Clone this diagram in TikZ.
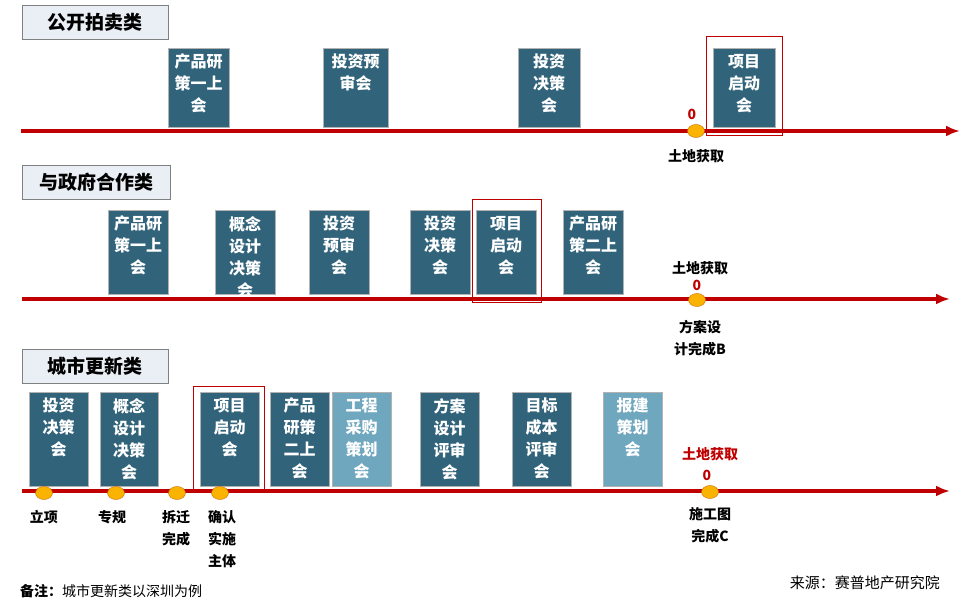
\documentclass[tikz,border=0pt]{standalone}
\usepackage{fontspec}
\setmainfont{Noto Sans CJK SC}
\usetikzlibrary{arrows.meta,shapes.geometric}
\definecolor{boxc}{HTML}{31637A}
\definecolor{boxl}{HTML}{6FA7BF}
\definecolor{redc}{HTML}{C00000}
\definecolor{dotc}{HTML}{F9B300}
\definecolor{titc}{HTML}{E9EFF5}
\tikzset{
  title/.style={draw=gray,fill=titc,line width=0.8pt,anchor=west,font=\fontsize{19}{21}\selectfont\bfseries,inner xsep=6pt,minimum height=34pt},
  btext/.style={text=white,font=\fontsize{16}{22}\selectfont\bfseries,align=center,anchor=north,inner sep=0pt},
  tl/.style={-{Latex[length=14pt,width=11pt]},redc,line width=3.5pt},
  dot/.style={ellipse,draw=orange!80!black,fill=dotc,minimum width=17pt,minimum height=13pt,inner sep=0pt},
  lab/.style={font=\fontsize{14}{22}\selectfont\bfseries,align=center,inner sep=0pt},
  frm/.style={draw=redc,line width=0.8pt}
}
\newcommand{\bx}[6]{%
  \fill[#5,draw=gray!60] (#2,#3) rectangle (#4,#1);
  \node[btext] at ({(#2+#4)/2},{#3+6}) {#6};}
\begin{document}
\begin{tikzpicture}[x=1pt,y=-1pt]
\useasboundingbox[fill=white] (0,0) rectangle (970,609);
% row 1
\node[title,minimum width=146pt] (t1) at (22,22) {公开拍卖类};
\bx{127}{168}{48}{229}{boxc}{产品研\\策一上\\会}
\bx{127}{323}{48}{388}{boxc}{投资预\\审会}
\bx{127}{518}{48}{580}{boxc}{投资\\决策\\会}
\bx{127}{713}{48}{775}{boxc}{项目\\启动\\会}
\draw[frm] (706,36) rectangle (782,135);
\coordinate (a1) at (21,131); \coordinate (b1) at (960,131);
\draw[tl] (a1) -- (b1);
\node[dot] (d1) at (696,131) {};
\node[lab,text=redc] (z1) at (692,114) {0};
\node[lab] (l1) at (696,156) {土地获取};
% row 2
\node[title,minimum width=148pt] (t2) at (22,182) {与政府合作类};
\bx{294}{108}{210}{168}{boxc}{产品研\\策一上\\会}
\bx{294}{215}{210}{275}{boxc}{概念\\设计\\决策\\会}
\bx{294}{309}{210}{369}{boxc}{投资\\预审\\会}
\bx{294}{410}{210}{470}{boxc}{投资\\决策\\会}
\bx{294}{476}{210}{536}{boxc}{项目\\启动\\会}
\bx{294}{563}{210}{623}{boxc}{产品研\\策二上\\会}
\draw[frm] (472,199) rectangle (541,302);
\coordinate (a2) at (22,299); \coordinate (b2) at (950,299);
\draw[tl] (a2) -- (b2);
\node[dot] (d2) at (697,300) {};
\node[lab,text=redc] (z2) at (697,285) {0};
\node[lab] (l2) at (700,268) {土地获取};
\node[lab] (m2) at (700,338) {方案设\\计完成B};
% row 3
\node[title,minimum width=146pt] (t3) at (22,366) {城市更新类};
\bx{486}{29}{392}{88}{boxc}{投资\\决策\\会}
\bx{486}{100}{392}{158}{boxc}{概念\\设计\\决策\\会}
\bx{486}{200}{392}{259}{boxc}{项目\\启动\\会}
\bx{486}{270}{392}{329}{boxc}{产品\\研策\\二上\\会}
\bx{486}{332}{392}{391}{boxl}{工程\\采购\\策划\\会}
\bx{486}{420}{392}{479}{boxc}{方案\\设计\\评审\\会}
\bx{486}{512}{392}{571}{boxc}{目标\\成本\\评审\\会}
\bx{486}{603}{392}{662}{boxl}{报建\\策划\\会}
\draw[frm] (193,386) rectangle (264,489);
\coordinate (a3) at (22,491); \coordinate (b3) at (950,491);
\draw[tl] (a3) -- (b3);
\node[dot] (e1) at (44,493) {};
\node[dot] (e2) at (116,493) {};
\node[dot] (e3) at (177,493) {};
\node[dot] (e4) at (220,493) {};
\node[dot] (e5) at (710,492) {};
\node[lab,anchor=north] (f1) at (44,510) {立项};
\node[lab,anchor=north] (f2) at (112,510) {专规};
\node[lab,anchor=north] (f3) at (176,510) {拆迁\\完成};
\node[lab,anchor=north] (f4) at (222,510) {确认\\实施\\主体};
\node[lab,text=redc] (z3) at (707,475) {0};
\node[lab,text=redc] (l3) at (710,454) {土地获取};
\node[lab,anchor=north] (f5) at (710,507) {施工图\\完成C};
% footer
\node[anchor=west,font=\fontsize{14}{16}\selectfont,inner sep=0pt] (n1) at (20,591) {\textbf{备注：}城市更新类以深圳为例};
\node[anchor=east,font=\fontsize{15}{16}\selectfont,inner sep=0pt] (n2) at (940,583) {来源：赛普地产研究院};
\end{tikzpicture}
\end{document}
